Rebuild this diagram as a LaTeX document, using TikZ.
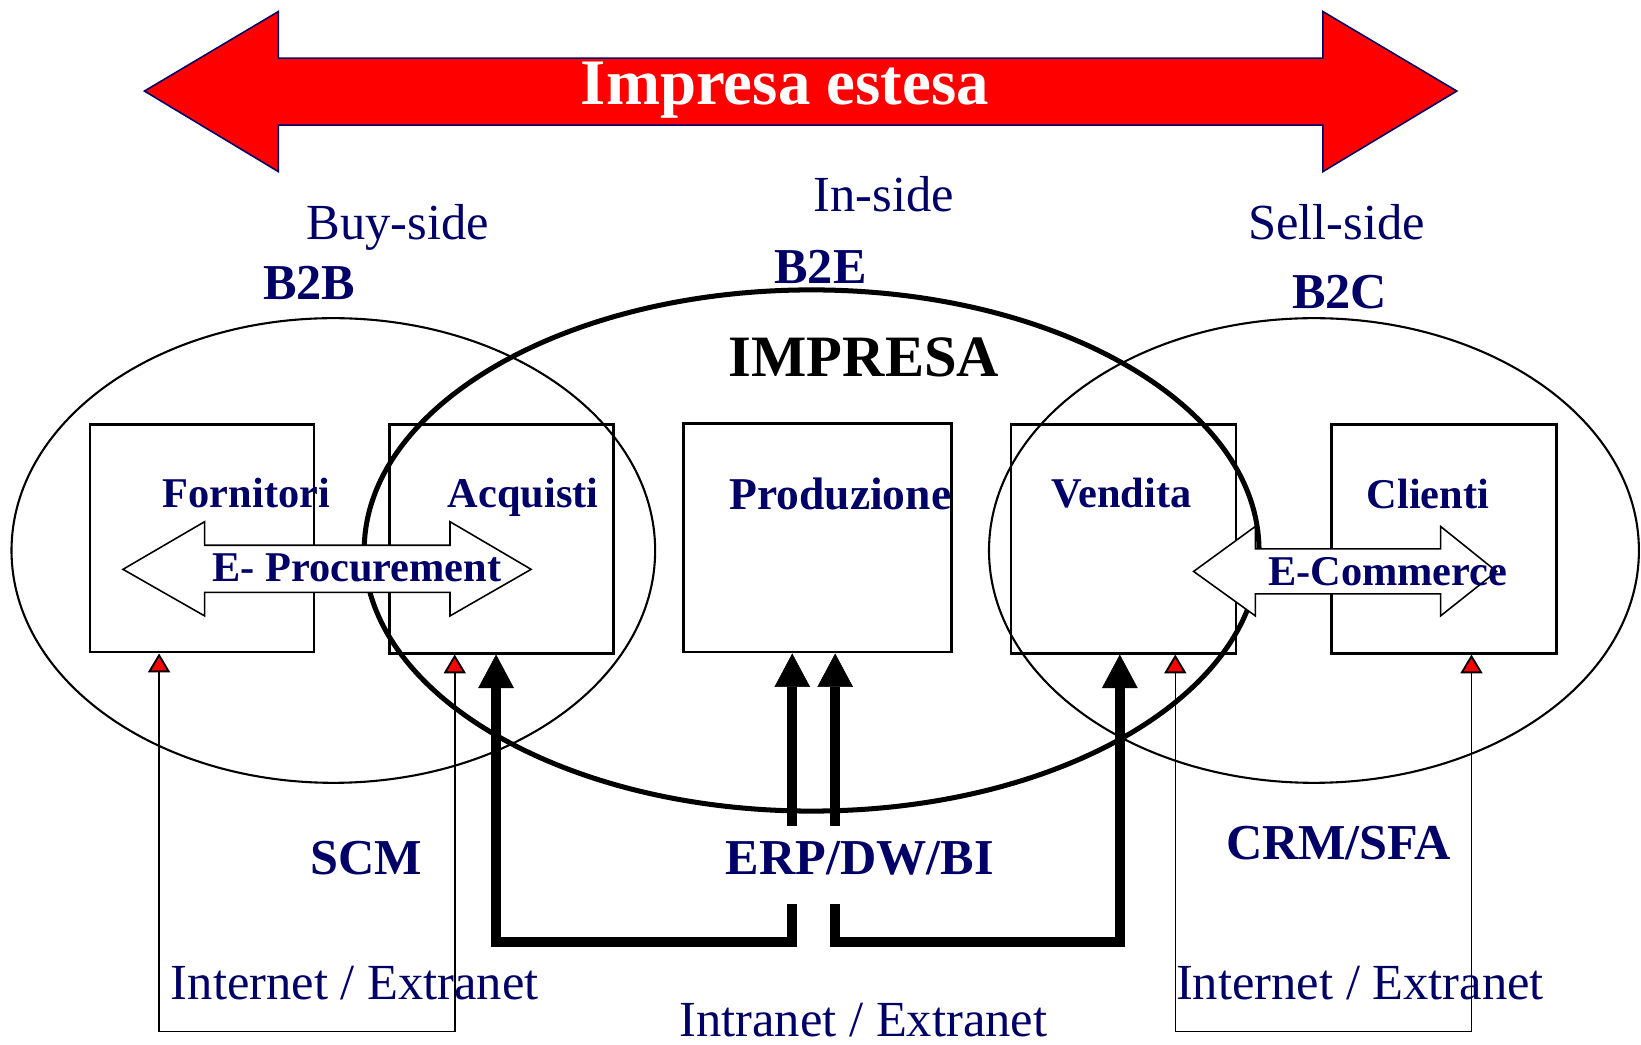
\documentclass[tikz,border=0pt]{standalone}
\usepackage{fontspec}
\setmainfont{Liberation Serif}
\usetikzlibrary{arrows.meta,calc}
\definecolor{navy}{RGB}{0,0,102}
\definecolor{redfill}{RGB}{255,0,0}
\begin{document}
\begin{tikzpicture}[x=1pt,y=-1pt,
  boxnode/.style={draw,line width=2.8pt,inner sep=0,minimum width=#1,minimum height=218pt},
  lab/.style={font=\fontsize{48.3}{50}\selectfont,text=navy,inner sep=0,anchor=base},
  blab/.style={font=\bfseries\fontsize{48}{50}\selectfont,text=navy,inner sep=0,anchor=base},
  boxlab/.style={font=\bfseries\fontsize{40.5}{44}\selectfont,text=navy,inner sep=0,anchor=base},
  thinell/.style={draw,line width=2pt},
  thickell/.style={draw,line width=4.8pt},
  bigarr/.style={line width=10pt,line join=miter,-{Triangle[width=34pt,length=32pt,line width=0.5pt]}},
  redtip/.tip={Triangle[width=21pt,length=18pt,fill=redfill,line width=1.8pt]},
  netarr/.style={line width=1.5pt,redtip-redtip},
  dblarr/.style={draw,fill=white,line width=1.5pt,line join=miter}
]
\useasboundingbox (0,0) rectangle (1568,998);

% big red arrow
\draw[fill=redfill,draw=navy,line width=1.5pt] (138,87) -- (266,11) -- (266,55.5) -- (1264,55.5) -- (1264,11) -- (1392,87) -- (1264,164) -- (1264,119.5) -- (266,119.5) -- (266,164) -- cycle;
\node[font=\bfseries\fontsize{62}{66}\selectfont,text=white,inner sep=0,anchor=base] (estesa) at (750,100) {Impresa estesa};

% boxes
\node[boxnode=214pt,minimum height=217pt] (forn) at (193,514.5) {};
\node[boxnode=214pt] (acq) at (479,515) {};
\node[boxnode=256pt] (prod) at (781,514) {};
\node[boxnode=215pt] (vend) at (1073.5,515) {};
\node[boxnode=215pt] (cli) at (1380,515) {};

% ellipses
\draw[thinell] (318.5,526) ellipse [x radius=307.5, y radius=222];
\draw[thinell] (1255.5,526) ellipse [x radius=310.5, y radius=222];
\draw[thickell] (775.5,526) ellipse [x radius=427.5, y radius=249];

% thick connectors
\coordinate (gl) at (757,864);
\coordinate (gr) at (798,864);
\coordinate (pl) at (757,789);
\coordinate (pr) at (798,789);
\coordinate (bot) at (780,900);
\coordinate (acqin) at ($(acq.south)+(-5,0)$);
\coordinate (vendin) at ($(vend.south)+(-3.5,0)$);
\draw[bigarr] (gl) -- (gl |- bot) -| (acqin);
\draw[bigarr] (gr) -- (gr |- bot) -| (vendin);
\draw[bigarr] (pl) -- (pl |- prod.south);
\draw[bigarr] (pr) -- (pr |- prod.south);

% thin network connectors
\coordinate (nb) at (300,985.5);
\coordinate (fornnet) at ($(forn.south)+(-41,0)$);
\coordinate (acqnet) at ($(acq.south)+(-44.5,0)$);
\coordinate (vendnet) at ($(vend.south)+(49.5,0)$);
\coordinate (clinet) at ($(cli.south)+(26,0)$);
\draw[netarr] (fornnet) -- (fornnet |- nb) -| (acqnet);
\draw[netarr] (vendnet) -- (vendnet |- nb) -| (clinet);

% white double arrows
\draw[dblarr] (117.5,544) -- (195.5,498.5) -- (195.5,521) -- (430,521) -- (430,498.5) -- (507.5,544) -- (430,588.5) -- (430,566) -- (195.5,566) -- (195.5,588.5) -- cycle;
\draw[dblarr] (1140.5,546) -- (1199.5,503) -- (1199.5,524.5) -- (1376.5,524.5) -- (1376.5,503) -- (1430,546) -- (1376.5,588.5) -- (1376.5,567.5) -- (1199.5,567.5) -- (1199.5,588.5) -- cycle;

% labels
\node[lab] (inside) at (844.5,202.5) {In-side};
\node[lab] (buyside) at (380,228.5) {Buy-side};
\node[lab] (sellside) at (1277,228.5) {Sell-side};
\node[blab] (b2b) at (295.5,286) {B2B};
\node[blab] (b2e) at (784,270.5) {B2E};
\node[blab] (b2c) at (1280,294.5) {B2C};
\node[font=\bfseries\fontsize{56}{60}\selectfont,inner sep=0,anchor=base] (impresa) at (825.5,360) {IMPRESA};

\node[boxlab] (fornl) at (235.5,485) {Fornitori};
\node[boxlab] (acql) at (500,485) {Acquisti};
\node[boxlab,font=\bfseries\fontsize{43.5}{46}\selectfont] (prodl) at (803,487) {Produzione};
\node[boxlab] (vendl) at (1071.5,485) {Vendita};
\node[boxlab] (clil) at (1364.5,485.5) {Clienti};
\node[boxlab] (eproc) at (341,556) {E- Procurement};
\node[boxlab] (ecom) at (1326,559) {E-Commerce};

\node[blab] (scm) at (350,836) {SCM};
\node[blab] (erp) at (821.5,836) {ERP/DW/BI};
\node[blab] (crm) at (1279,821) {CRM/SFA};
\node[lab] (netl) at (339,955.5) {Internet / Extranet};
\node[lab] (netr) at (1299.5,955.5) {Internet / Extranet};
\node[lab] (intra) at (825,990) {Intranet / Extranet};
\end{tikzpicture}
\end{document}
